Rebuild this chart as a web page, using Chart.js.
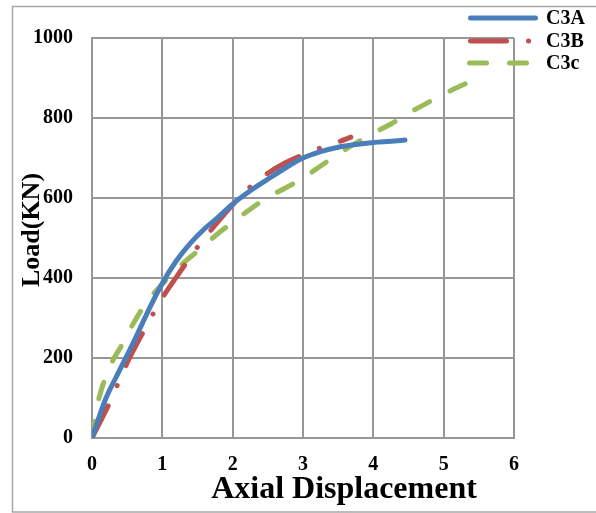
<!DOCTYPE html>
<html>
<head>
<meta charset="utf-8">
<script src="https://cdn.jsdelivr.net/npm/chart.js@4/dist/chart.umd.min.js"></script>
<style>
  html, body { margin: 0; padding: 0; background: #fff; }
  #wrap { width: 596px; height: 513px; position: relative; }
</style>
</head>
<body>
<div id="wrap"><canvas id="grafico"></canvas></div>
<script>
// valores
const c3aX = [0, 0.2, 0.4, 0.6, 0.8, 1.0, 1.2, 1.4, 1.6, 1.8, 2.0, 2.25, 2.5, 2.75, 3.0, 3.25, 3.5, 3.75, 4.0, 4.25, 4.45];
const c3aY = [0, 100, 172, 243, 318, 387, 443, 487, 523, 553, 585, 618, 647, 675, 700, 716, 727, 734, 739, 742, 745];

const c3bX = [0, 0.25, 0.5, 0.75, 1.0, 1.25, 1.5, 1.75, 2.0, 2.25, 2.5, 2.75, 3.0, 3.25, 3.5, 3.68];
const c3bY = [0, 88, 188, 272, 350, 415, 477, 532, 583, 628, 662, 688, 708, 725, 740, 752];

const c3cX = [0, 0.05, 0.1, 0.2, 0.3, 0.45, 0.6, 0.8, 1.0, 1.25, 1.5, 1.75, 2.0, 2.25, 2.5, 2.75, 3.0, 3.25, 3.5, 3.75, 4.0, 4.25, 4.5, 4.75, 5.0, 5.36];
const c3cY = [0, 50, 100, 155, 195, 240, 290, 345, 385, 430, 467, 505, 540, 572, 602, 625, 650, 680, 710, 737, 762, 785, 812, 836, 860, 890];

const xTicks = [0, 1, 2, 3, 4, 5, 6];
const yTicks = [0, 200, 400, 600, 800, 1000];
const nombres = ['C3A', 'C3B', 'C3c'];

const serif = "'Liberation Serif', 'Times New Roman', serif";
const azul = '#4a7ebb', rojo = '#c0504d', verde = '#9bbb59';
const dashB = [36, 22, 0.1, 22];
const dashC = [17, 23];

function puntos(xs, ys) {
    return xs.map((x, i) => ({ x: x, y: ys[i] }));
}

// marco, titulos de ejes y leyenda
const extras = {
    id: 'extras',
    beforeDraw(chart) {
        const ctx = chart.ctx;
        ctx.save();
        ctx.strokeStyle = '#a6a6a6';
        ctx.lineWidth = 1.5;
        ctx.strokeRect(12.5, 6.5, 620, 505.5);
        ctx.restore();
    },
    afterDraw(chart) {
        const ctx = chart.ctx;
        ctx.save();
        ctx.fillStyle = '#000';
        ctx.font = 'bold 32px ' + serif;
        ctx.textAlign = 'center';
        ctx.textBaseline = 'alphabetic';
        ctx.fillText('Axial Displacement', 344, 498);

        ctx.translate(32, 230);
        ctx.rotate(-Math.PI / 2);
        ctx.font = 'bold 26px ' + serif;
        ctx.textBaseline = 'middle';
        ctx.fillText('Load(KN)', 0, 0);
        ctx.restore();

        // leyenda
        const filas = [
            { y: 18, color: azul, dash: [], x1: 470.5, x2: 535.5 },
            { y: 41, color: rojo, dash: dashB, x1: 470.5, x2: 536 },
            { y: 63, color: verde, dash: dashC, x1: 469.5, x2: 530 }
        ];
        ctx.save();
        ctx.lineWidth = 5;
        ctx.lineCap = 'round';
        filas.forEach((f) => {
            ctx.strokeStyle = f.color;
            ctx.setLineDash(f.dash);
            ctx.beginPath();
            ctx.moveTo(f.x1, f.y);
            ctx.lineTo(f.x2, f.y);
            ctx.stroke();
        });
        ctx.setLineDash([]);
        ctx.fillStyle = '#000';
        ctx.font = 'bold 20px ' + serif;
        ctx.textAlign = 'left';
        ctx.textBaseline = 'middle';
        filas.forEach((f, i) => {
            ctx.fillText(nombres[i], 546, f.y + 1);
        });
        ctx.restore();
    }
};

const estiloLinea = {
    borderWidth: 5,
    pointRadius: 0,
    pointHoverRadius: 0,
    tension: 0.35,
    fill: false,
    borderCapStyle: 'round',
    borderJoinStyle: 'round'
};

new Chart(document.getElementById('grafico'), {
    type: 'line',
    data: {
        datasets: [
            Object.assign({ label: nombres[0], data: puntos(c3aX, c3aY), borderColor: azul }, estiloLinea),
            Object.assign({ label: nombres[1], data: puntos(c3bX, c3bY), borderColor: rojo, borderDash: dashB }, estiloLinea),
            Object.assign({ label: nombres[2], data: puntos(c3cX, c3cY), borderColor: verde, borderDash: dashC }, estiloLinea)
        ]
    },
    options: {
        responsive: true,
        maintainAspectRatio: false,
        animation: false,
        layout: { padding: { left: 0, top: 38, right: 82, bottom: 0 } },
        plugins: {
            legend: { display: false },
            tooltip: { enabled: false }
        },
        scales: {
            x: {
                type: 'linear',
                min: 0,
                max: 6,
                afterBuildTicks: (s) => { s.ticks = xTicks.map(v => ({ value: v })); },
                afterFit: (s) => { s.height = 75; },
                grid: { color: '#979797', lineWidth: 2, drawTicks: false },
                border: { color: '#979797', width: 2 },
                ticks: {
                    padding: 15,
                    color: '#000',
                    font: { family: serif, size: 20, weight: 'bold' },
                    maxRotation: 0,
                    callback: (v) => String(v)
                }
            },
            y: {
                min: 0,
                max: 1000,
                afterBuildTicks: (s) => { s.ticks = yTicks.map(v => ({ value: v })); },
                afterFit: (s) => { s.width = 92; },
                grid: { color: '#979797', lineWidth: 2, drawTicks: false },
                border: { color: '#979797', width: 2 },
                ticks: {
                    padding: 19,
                    color: '#000',
                    font: { family: serif, size: 20, weight: 'bold' },
                    callback: (v) => String(v)
                }
            }
        }
    },
    plugins: [extras]
});
</script>
</body>
</html>
